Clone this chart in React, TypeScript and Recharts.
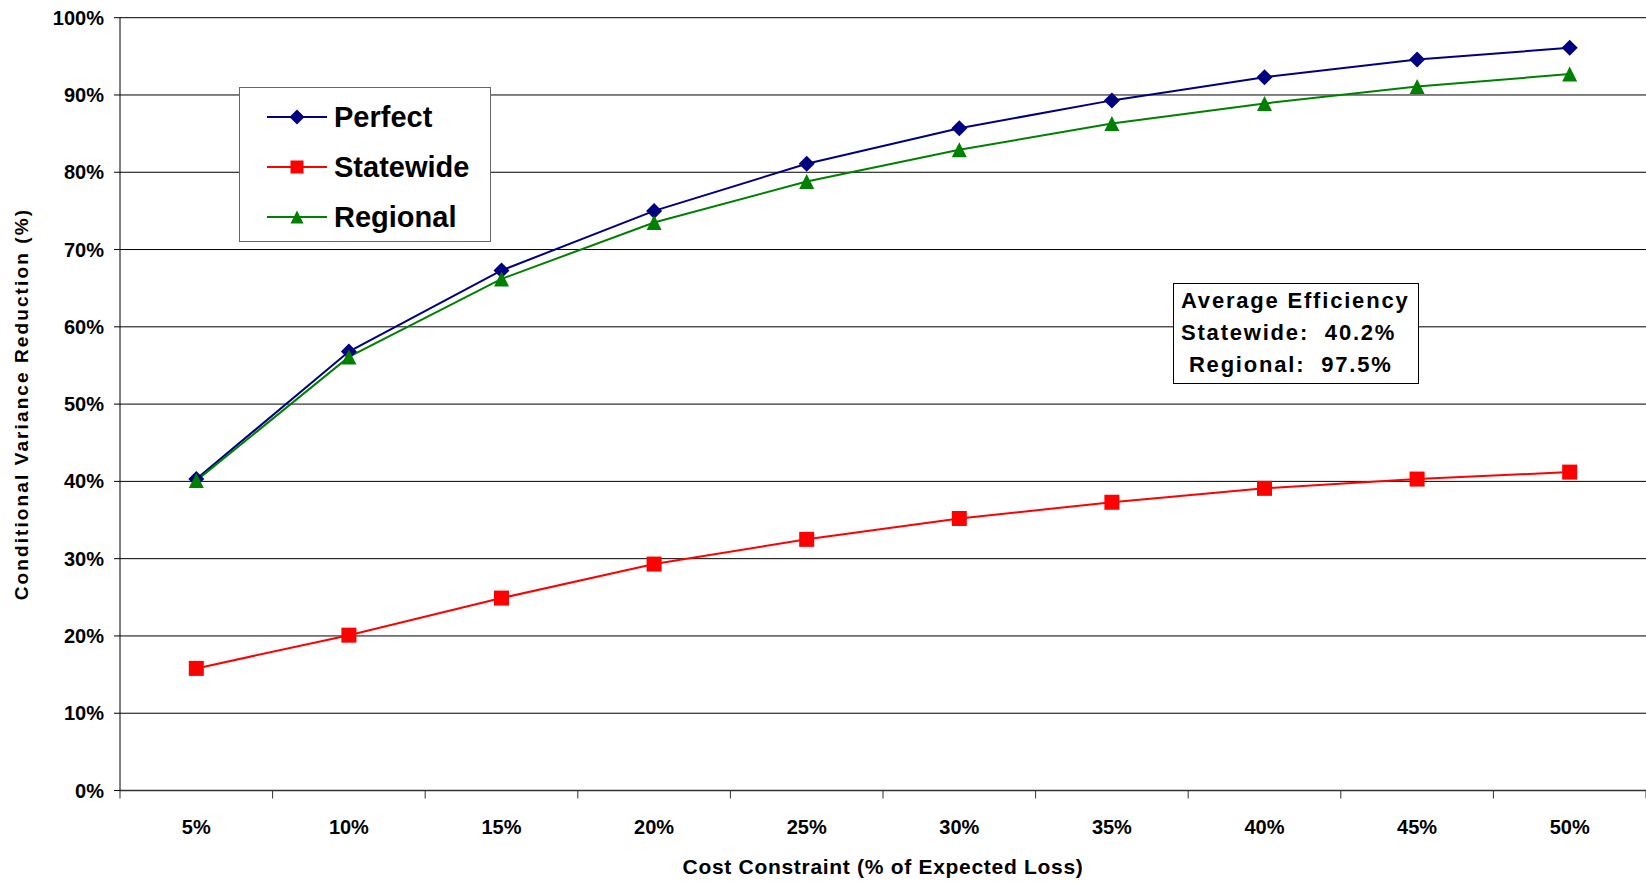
import { LineChart, Line, XAxis, YAxis, CartesianGrid, Legend } from 'recharts';

const costLevels = [5, 10, 15, 20, 25, 30, 35, 40, 45, 50];
const perfect = [40.3, 56.8, 67.3, 75.0, 81.1, 85.7, 89.3, 92.3, 94.6, 96.1];
const statewide = [15.8, 20.1, 24.9, 29.3, 32.5, 35.2, 37.3, 39.1, 40.3, 41.2];
const regional = [40.1, 56.1, 66.2, 73.5, 78.8, 82.9, 86.3, 88.9, 91.1, 92.7];
const yTicks = [0, 10, 20, 30, 40, 50, 60, 70, 80, 90, 100];
// category edges sit halfway between the cost levels
const costEdges = [2.5, 7.5, 12.5, 17.5, 22.5, 27.5, 32.5, 37.5, 42.5, 47.5, 52.5];

const data = costLevels.map((cost, i) => ({
  cost,
  perfect: perfect[i],
  statewide: statewide[i],
  regional: regional[i],
}));

const FONT = '"Liberation Sans", Arial, sans-serif';

type Shape = 'diamond' | 'square' | 'triangle';

const series: { key: string; name: string; color: string; shape: Shape }[] = [
  { key: 'perfect', name: 'Perfect', color: '#000080', shape: 'diamond' },
  { key: 'statewide', name: 'Statewide', color: '#FF0000', shape: 'square' },
  { key: 'regional', name: 'Regional', color: '#008000', shape: 'triangle' },
];

const Marker = ({ cx, cy, shape, color, size }: any) => {
  if (cx == null || cy == null) return null;
  const h = size / 2;
  if (shape === 'diamond') {
    return <polygon points={`${cx},${cy - h} ${cx + h},${cy} ${cx},${cy + h} ${cx - h},${cy}`} fill={color} />;
  }
  if (shape === 'square') {
    return <rect x={cx - h} y={cy - h} width={size} height={size} fill={color} />;
  }
  return <polygon points={`${cx},${cy - h} ${cx + h},${cy + h} ${cx - h},${cy + h}`} fill={color} />;
};

const markerSize: Record<Shape, number> = { diamond: 16, square: 15, triangle: 15 };

// labels in the middle of each category, short tick marks on the edges
const CostTick = ({ x, y, payload }: any) => {
  const v = payload.value;
  if (v % 5 === 0) {
    return (
      <text x={x} y={y + 43} textAnchor="middle" fontFamily={FONT} fontWeight="bold" fontSize={20} fill="#000">
        {`${v}%`}
      </text>
    );
  }
  return <line x1={x} x2={x} y1={y} y2={y + 8} stroke="#333" strokeWidth={1} />;
};

const XTitle = ({ viewBox }: any) => {
  const cx = viewBox ? viewBox.x + viewBox.width / 2 : 883;
  const top = viewBox ? viewBox.y : 790.5;
  return (
    <text x={cx} y={top + 83} textAnchor="middle" fontFamily={FONT} fontWeight="bold" fontSize={21} letterSpacing={0.7} fill="#000">
      Cost Constraint (% of Expected Loss)
    </text>
  );
};

const YTitle = ({ viewBox }: any) => {
  const cy = viewBox ? viewBox.y + viewBox.height / 2 : 404;
  const x = 28;
  return (
    <text
      x={x}
      y={cy}
      transform={`rotate(-90 ${x} ${cy})`}
      textAnchor="middle"
      fontFamily={FONT}
      fontWeight="bold"
      fontSize={19}
      letterSpacing={2.1}
      fill="#000"
    >
      Conditional Variance Reduction (%)
    </text>
  );
};

const SeriesLegend = () => (
  <div
    style={{
      width: 252,
      height: 155,
      boxSizing: 'border-box',
      border: '1.5px solid #666',
      background: '#fff',
      paddingTop: 4,
    }}
  >
    {series.map((s) => (
      <div key={s.key} style={{ display: 'flex', alignItems: 'center', height: 50, paddingLeft: 26 }}>
        <svg width={62} height={20} style={{ marginRight: 6 }}>
          <line x1={1} x2={61} y1={10} y2={10} stroke={s.color} strokeWidth={2} />
          <Marker cx={31} cy={10} shape={s.shape} color={s.color} size={s.shape === 'diamond' ? 15 : 13} />
        </svg>
        <span style={{ fontFamily: FONT, fontWeight: 'bold', fontSize: 29, color: '#000' }}>{s.name}</span>
      </div>
    ))}
  </div>
);

const App = () => {
  return (
    <div style={{ position: 'absolute', left: 0, top: 0, width: 1646, height: 882, background: '#fff' }}>
      <LineChart width={1646} height={882} data={data} margin={{ top: 17.7, right: 0, bottom: 0, left: 0 }}>
        <CartesianGrid vertical={false} stroke="#000" strokeWidth={1} />
        <XAxis
          type="number"
          dataKey="cost"
          domain={[2.5, 52.5]}
          ticks={[...costEdges, ...costLevels].sort((a, b) => a - b)}
          interval={0}
          tick={<CostTick />}
          tickLine={false}
          tickSize={0}
          tickMargin={0}
          axisLine={{ stroke: '#333', strokeWidth: 1.5 }}
          height={91.5}
          label={<XTitle />}
        />
        <YAxis
          type="number"
          domain={[0, 100]}
          ticks={yTicks}
          interval={0}
          width={120}
          tickFormatter={(v: number) => `${v}%`}
          tick={{ fontFamily: FONT, fontWeight: 'bold', fontSize: 20, fill: '#000' }}
          tickSize={6}
          tickMargin={10}
          tickLine={{ stroke: '#000' }}
          axisLine={{ stroke: '#000' }}
          label={<YTitle />}
        />
        <Legend
          layout="vertical"
          align="center"
          verticalAlign="middle"
          content={<SeriesLegend />}
          wrapperStyle={{ left: 239, top: 87 }}
        />
        {series.map((s) => (
          <Line
            key={s.key}
            type="linear"
            dataKey={s.key}
            name={s.name}
            stroke={s.color}
            strokeWidth={2}
            isAnimationActive={false}
            activeDot={false}
            dot={(p: any) => (
              <Marker key={`${s.key}-${p.index}`} cx={p.cx} cy={p.cy} shape={s.shape} color={s.color} size={markerSize[s.shape]} />
            )}
          />
        ))}
      </LineChart>
      <div
        style={{
          position: 'absolute',
          left: 1173,
          top: 283,
          width: 246,
          height: 101,
          boxSizing: 'border-box',
          border: '1.5px solid #000',
          background: '#fff',
          fontFamily: FONT,
          fontWeight: 'bold',
          fontSize: 22,
          letterSpacing: 1.8,
          lineHeight: '32px',
          padding: '1px 0 0 7px',
          whiteSpace: 'pre',
          color: '#000',
        }}
      >
        <div>Average Efficiency</div>
        <div>Statewide:  40.2%</div>
        <div> Regional:  97.5%</div>
      </div>
    </div>
  );
};

export default App;
